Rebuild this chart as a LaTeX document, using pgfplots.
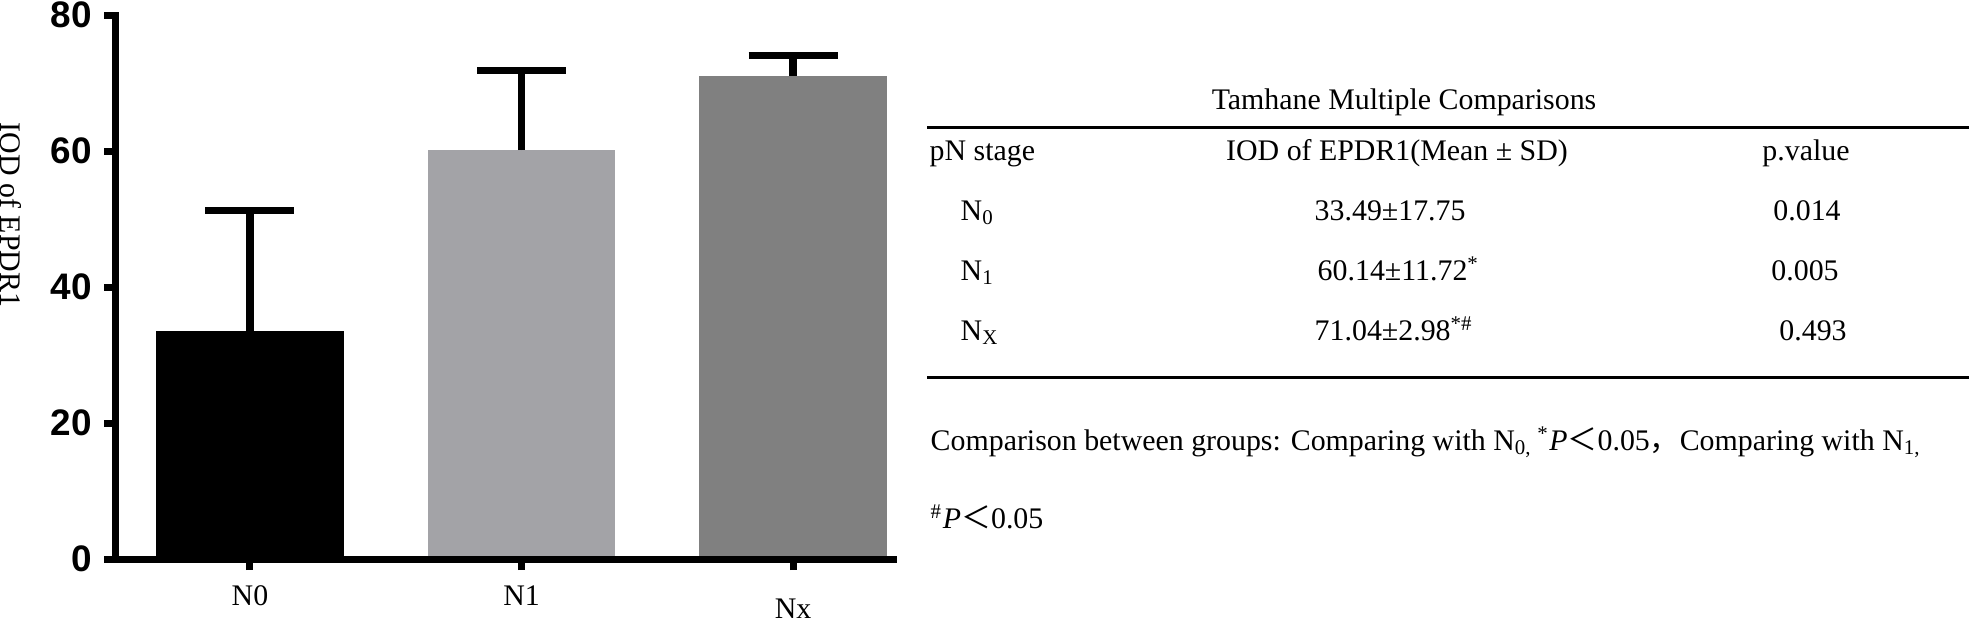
\documentclass[border=0pt]{standalone}
\usepackage{fontspec}
\setmainfont{Liberation Serif}
\newfontfamily\tickfont{Liberation Sans}
\newfontfamily\cjk{Noto Sans CJK SC}
\usepackage{pgfplots}
\pgfplotsset{compat=1.18}
\definecolor{barB}{HTML}{A3A3A7}
\definecolor{barC}{HTML}{808080}
\newcommand\tabfont{\fontsize{8.5}{10}\selectfont}

\begin{document}
\begin{tikzpicture}
\useasboundingbox (0,0) rectangle (196.9mm,62mm);
\begin{axis}[
    at={(11.5mm,6.1mm)}, anchor=south west,
    scale only axis, width=77.8mm, height=54.4mm,
    xmin=-0.497, xmax=2.368, ymin=0, ymax=80,
    axis x line*=bottom, axis y line*=left,
    axis line style={line width=0.7mm, line cap=rect},
    axis on top, clip=false,
    xtick={0,1,2}, xticklabels=\empty,
    ytick={0,20,40,60,80},
    tick align=outside, major tick length=1.1mm,
    tick style={line width=0.7mm, black},
    /pgf/number format/assume math mode=true,
    yticklabel style={font=\tickfont\bfseries\fontsize{10.5}{12}\selectfont},
    error bars/y dir=plus, error bars/y explicit,
    error bars/error mark=|,
    error bars/error bar style={line width=0.75mm, black},
    error bars/error mark options={line width=0.7mm, black, mark size=4.45mm},
]
\addplot[ybar, bar shift=0pt, bar width=0.692, fill=black, draw=none]
    coordinates {(0,33.49) +- (0,17.75)};
\addplot[ybar, bar shift=0pt, bar width=0.692, fill=barB, draw=none]
    coordinates {(1,60.14) +- (0,11.72)};
\addplot[ybar, bar shift=0pt, bar width=0.692, fill=barC, draw=none]
    coordinates {(2,71.04) +- (0,2.98)};
\node[anchor=base, inner sep=0pt, font=\fontsize{8.5}{10}\selectfont] at (axis cs:0,0) [yshift=-4.6mm] {N0};
\node[anchor=base, inner sep=0pt, font=\fontsize{8.5}{10}\selectfont] at (axis cs:1,0) [yshift=-4.6mm] {N1};
\node[anchor=base, inner sep=0pt, font=\fontsize{8.5}{10}\selectfont] at (axis cs:2,0) [yshift=-5.9mm] {Nx};
\end{axis}

\begin{scope}[yshift=62mm, x=0.1mm, y=-0.1mm, every node/.style={inner sep=0pt, font=\tabfont}]
% y label, reads downward
\node[rotate=-90, anchor=base] at (0,215) {IOD of EPDR1};
% table
\node[anchor=base] at (1404,109) {Tamhane Multiple Comparisons};
\draw[line width=0.3mm] (927,127) -- (1969,127);
\node[anchor=base west] at (929,160) {pN stage};
\node[anchor=base] at (1397,160) {IOD of EPDR1(Mean ± SD)};
\node[anchor=base] at (1806,160) {p.value};
\node[anchor=base west] at (960,220) {N\textsubscript{0}};
\node[anchor=base west] at (960,280) {N\textsubscript{1}};
\node[anchor=base west] at (960,340) {N\textsubscript{X}};
\node[anchor=base west] at (1314,220) {33.49±17.75};
\node[anchor=base west] at (1317,280) {60.14±11.72\textsuperscript{*}};
\node[anchor=base west] at (1314,340) {71.04±2.98\textsuperscript{*\#}};
\node[anchor=base] at (1807,220) {0.014};
\node[anchor=base] at (1805,280) {0.005};
\node[anchor=base] at (1813,340) {0.493};
\draw[line width=0.3mm] (927,377) -- (1969,377);
% footnote
\node[anchor=base west] at (930,450) {Comparison between groups: Comparing with N\textsubscript{0,}\,\textsuperscript{*}\textit{P}{\cjk ＜}0.05{\cjk ，}Comparing with N\textsubscript{1,}};
\node[anchor=base west] at (930,528) {\textsuperscript{\#}\textit{P}{\cjk ＜}0.05};
\end{scope}
\end{tikzpicture}
\end{document}
